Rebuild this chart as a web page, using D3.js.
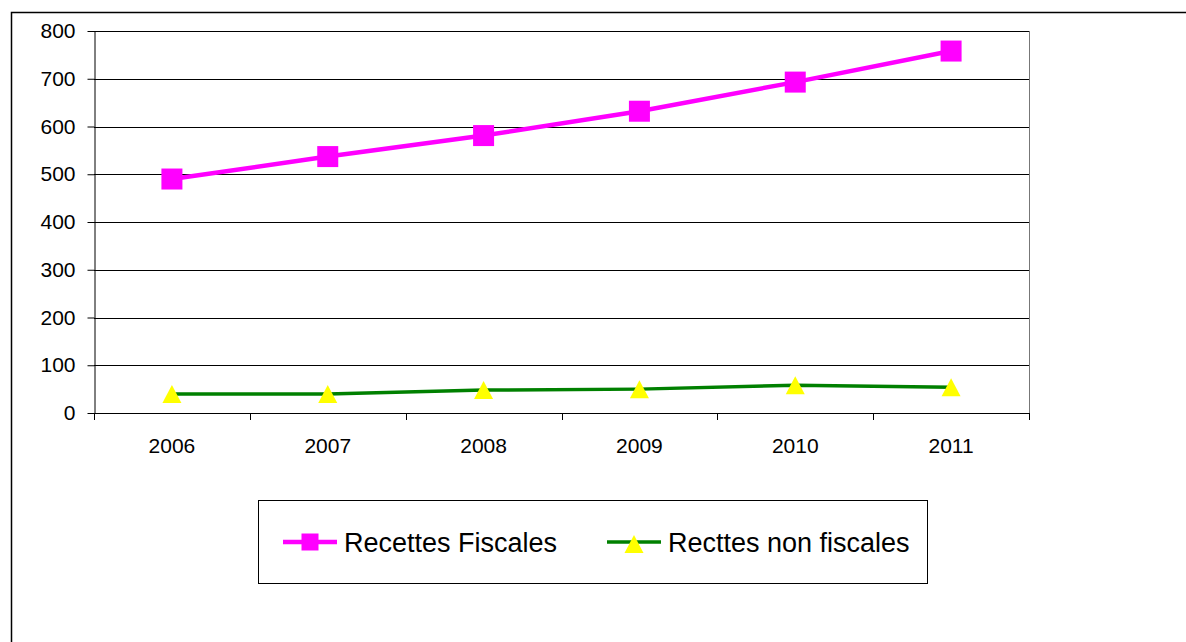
<!DOCTYPE html>
<html>
<head>
<meta charset="utf-8">
<script src="https://cdn.jsdelivr.net/npm/d3@7"></script>
<style>
    body { margin: 0; background: #fff; }
    svg { display: block; font-family: "Liberation Sans", Arial, sans-serif; }
</style>
</head>
<body>
<script>
//chart data
var years = ["2006", "2007", "2008", "2009", "2010", "2011"];
var recettesFiscales = [490, 537, 581, 632, 693, 758];
var recettesNonFiscales = [40, 40, 48, 50, 58, 54];
var seriesNames = ["Recettes Fiscales", "Recttes non fiscales"];
var yTicks = [0, 100, 200, 300, 400, 500, 600, 700, 800];

(function (){

    var width = 1186, height = 642;

    var svg = d3.select("body")
        .append("svg")
        .attr("width", width)
        .attr("height", height);

    //outer frame of the page (top and left edges only are visible)
    svg.append("path")
        .attr("d", "M11.5," + height + "V12.5H" + width)
        .attr("fill", "none")
        .attr("stroke", "#000")
        .attr("stroke-width", 1.5);

    //plot area
    var plot = {left: 94, right: 1029, top: 31, bottom: 413};

    var x = d3.scaleBand()
        .domain(years)
        .range([plot.left, plot.right]);

    var y = d3.scaleLinear()
        .domain([0, 800])
        .range([plot.bottom, plot.top]);

    //horizontal gridlines
    svg.selectAll(".grid")
        .data(yTicks)
        .enter()
        .append("line")
        .attr("class", "grid")
        .attr("x1", plot.left)
        .attr("x2", plot.right)
        .attr("y1", function(d){ return Math.round(y(d)) + 0.5; })
        .attr("y2", function(d){ return Math.round(y(d)) + 0.5; })
        .attr("stroke", "#000")
        .attr("stroke-width", 1);

    //right border of plot area
    svg.append("line")
        .attr("x1", plot.right + 0.5)
        .attr("x2", plot.right + 0.5)
        .attr("y1", plot.top)
        .attr("y2", plot.bottom)
        .attr("stroke", "#777")
        .attr("stroke-width", 1);

    //y axis
    var yAxis = svg.append("g")
        .attr("transform", "translate(" + (plot.left + 0.5) + ",0)")
        .call(d3.axisLeft(y).tickValues(yTicks).tickSize(7).tickPadding(12).tickSizeOuter(0));
    yAxis.select(".domain").attr("stroke", "#000");
    yAxis.selectAll(".tick line").attr("stroke", "#000");
    yAxis.selectAll("text")
        .attr("font-size", 21)
        .attr("font-family", "Liberation Sans, Arial, sans-serif")
        .attr("fill", "#000");

    //x axis: tick marks between categories
    var boundaries = years.map(function(d){ return x(d); }).concat([plot.right]);
    svg.selectAll(".xtick")
        .data(boundaries)
        .enter()
        .append("line")
        .attr("class", "xtick")
        .attr("x1", function(d){ return Math.round(d) + 0.5; })
        .attr("x2", function(d){ return Math.round(d) + 0.5; })
        .attr("y1", plot.bottom)
        .attr("y2", plot.bottom + 7)
        .attr("stroke", "#000");

    svg.selectAll(".xlabel")
        .data(years)
        .enter()
        .append("text")
        .attr("class", "xlabel")
        .attr("x", function(d){ return x(d) + x.bandwidth() / 2; })
        .attr("y", 453)
        .attr("text-anchor", "middle")
        .attr("font-size", 21)
        .text(function(d){ return d; });

    var line = d3.line()
        .x(function(d, i){ return x(years[i]) + x.bandwidth() / 2; })
        .y(function(d){ return y(d); });

    //non fiscal revenue line with triangles
    svg.append("path")
        .datum(recettesNonFiscales)
        .attr("d", line)
        .attr("fill", "none")
        .attr("stroke", "#008000")
        .attr("stroke-width", 3.5);

    svg.selectAll(".tri")
        .data(recettesNonFiscales)
        .enter()
        .append("path")
        .attr("class", "tri")
        .attr("d", triangle(19, 18))
        .attr("transform", function(d, i){
            return "translate(" + (x(years[i]) + x.bandwidth() / 2) + "," + y(d) + ")";
        })
        .attr("fill", "#ffff00");

    //fiscal revenue line with squares
    svg.append("path")
        .datum(recettesFiscales)
        .attr("d", line)
        .attr("fill", "none")
        .attr("stroke", "#ff00ff")
        .attr("stroke-width", 4.5);

    svg.selectAll(".sq")
        .data(recettesFiscales)
        .enter()
        .append("rect")
        .attr("class", "sq")
        .attr("x", function(d, i){ return x(years[i]) + x.bandwidth() / 2 - 10.5; })
        .attr("y", function(d){ return y(d) - 10.5; })
        .attr("width", 21)
        .attr("height", 21)
        .attr("fill", "#ff00ff");

    //legend
    var legend = svg.append("g");
    legend.append("rect")
        .attr("x", 258.5)
        .attr("y", 500.5)
        .attr("width", 669)
        .attr("height", 83)
        .attr("fill", "none")
        .attr("stroke", "#000")
        .attr("stroke-width", 1);

    var legendItems = [
        {name: seriesNames[0], x: 283, color: "#ff00ff", lw: 4.5, marker: "square"},
        {name: seriesNames[1], x: 607, color: "#008000", lw: 3.5, marker: "triangle"}
    ];
    var ly = 542;
    legendItems.forEach(function(it){
        legend.append("line")
            .attr("x1", it.x)
            .attr("x2", it.x + 54)
            .attr("y1", ly)
            .attr("y2", ly)
            .attr("stroke", it.color)
            .attr("stroke-width", it.lw);
        if (it.marker == "square"){
            legend.append("rect")
                .attr("x", it.x + 27 - 8.5)
                .attr("y", ly - 8.5)
                .attr("width", 17)
                .attr("height", 17)
                .attr("fill", it.color);
        } else {
            legend.append("path")
                .attr("d", triangle(19, 18))
                .attr("transform", "translate(" + (it.x + 27) + "," + (ly + 2) + ")")
                .attr("fill", "#ffff00");
        }
        legend.append("text")
            .attr("x", it.x + 61)
            .attr("y", 552)
            .attr("font-size", 27)
            .text(it.name);
    });

    //triangle path centred on origin
    function triangle(w, h){
        return "M0," + (-h / 2) + "L" + (w / 2) + "," + (h / 2) + "L" + (-w / 2) + "," + (h / 2) + "Z";
    }

})();
</script>
</body>
</html>
